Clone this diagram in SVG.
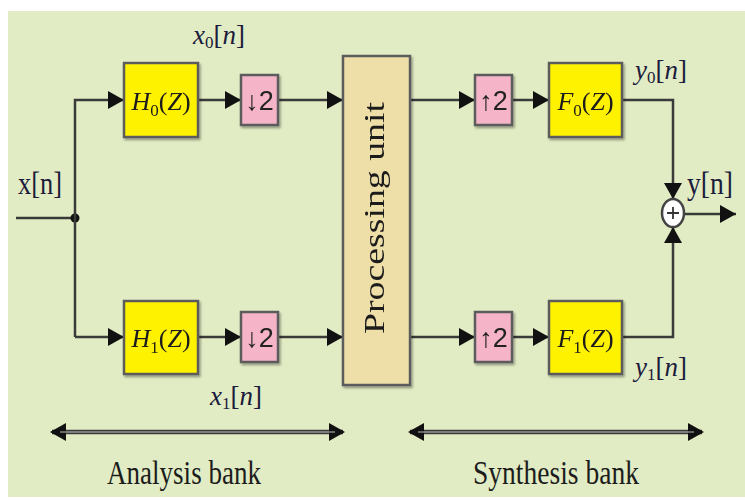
<svg xmlns="http://www.w3.org/2000/svg" width="745" height="500" viewBox="0 0 745 500">
<defs>
<marker id="ah" viewBox="0 0 16 18" refX="16" refY="9" markerWidth="16" markerHeight="18" markerUnits="userSpaceOnUse" orient="auto-start-reverse">
<path d="M0,0 L16,9 L0,18 Z" fill="#111"/>
</marker>
<marker id="ahb" viewBox="0 0 16 18" refX="14" refY="9" markerWidth="16" markerHeight="18" markerUnits="userSpaceOnUse" orient="auto-start-reverse">
<path d="M0,0 L16,9 L0,18 Z" fill="#111"/>
</marker>
<filter id="sh" x="-10%" y="-10%" width="130%" height="130%">
<feDropShadow dx="1.5" dy="2" stdDeviation="1" flood-color="#000" flood-opacity="0.35"/>
</filter>
</defs>
<style>
.w{fill:none;stroke:#3a3a3a;stroke-width:2.5}
.box{stroke:#5c5c5c;stroke-width:2.5}
.yel{fill:#FFF200}
.pink{fill:#F5B4C7}
.proc{fill:#EEDFA9}
.t{font-family:"Liberation Serif","DejaVu Serif",serif;fill:#1c1c1c}
.lbl{font-family:"Liberation Serif","DejaVu Serif",serif;fill:#1b1b3c}
.i{font-style:italic}
.ds{font-family:"Liberation Sans","DejaVu Sans",sans-serif;fill:#222;font-size:27px}
.big{stroke:#3a3a3a;stroke-width:4.5;fill:none}
</style>
<rect x="0" y="0" width="745" height="500" fill="#ffffff"/>
<rect x="8" y="11" width="737" height="486" fill="#E2ECC4"/>

<g id="connectors">
<path class="w" d="M16,218 H75"/>
<circle cx="75" cy="218" r="4.5" fill="#111"/>
<path class="w" d="M75,337 V100 H124" marker-end="url(#ah)"/>
<path class="w" d="M75,337 H124" marker-end="url(#ah)"/>
<path class="w" d="M198,100 H241" marker-end="url(#ah)"/>
<path class="w" d="M198,337 H241" marker-end="url(#ah)"/>
<path class="w" d="M278,100 H343" marker-end="url(#ah)"/>
<path class="w" d="M278,337 H343" marker-end="url(#ah)"/>
<path class="w" d="M410,100 H475" marker-end="url(#ah)"/>
<path class="w" d="M410,337 H475" marker-end="url(#ah)"/>
<path class="w" d="M512,100 H549" marker-end="url(#ah)"/>
<path class="w" d="M512,337 H549" marker-end="url(#ah)"/>
<path class="w" d="M622,100 H673 V199" marker-end="url(#ah)"/>
<path class="w" d="M622,337 H673 V227" marker-end="url(#ah)"/>
<path class="w" d="M684,214 H736" marker-end="url(#ah)"/>
<path class="big" d="M52,432 H343" marker-start="url(#ahb)" marker-end="url(#ahb)"/>
<path class="big" d="M410,432 H702" marker-start="url(#ahb)" marker-end="url(#ahb)"/>
<path d="M60,432 H335 M418,432 H694" stroke="#bdbdbd" stroke-width="1.2"/>
</g>

<g id="sum">
<ellipse cx="673" cy="213" rx="11" ry="14" fill="#ffffff" stroke="#444" stroke-width="2.5"/>
<path d="M667,213 H679 M673,207 V219" stroke="#333" stroke-width="1.8"/>
</g>

<g id="H0" filter="url(#sh)">
<rect class="box yel" x="124" y="63" width="74" height="74"/>
<text class="t" x="161" y="110" font-size="26" text-anchor="middle"><tspan class="i">H</tspan><tspan font-size="17" dy="6">0</tspan><tspan dy="-6">(</tspan><tspan class="i">Z</tspan>)</text>
</g>
<g id="D0" filter="url(#sh)">
<rect class="box pink" x="241" y="75" width="37" height="50"/>
<text class="ds" x="259.5" y="110" text-anchor="middle">↓2</text>
</g>
<g id="H1" filter="url(#sh)">
<rect class="box yel" x="124" y="301" width="74" height="73"/>
<text class="t" x="161" y="347" font-size="26" text-anchor="middle"><tspan class="i">H</tspan><tspan font-size="17" dy="6">1</tspan><tspan dy="-6">(</tspan><tspan class="i">Z</tspan>)</text>
</g>
<g id="D1" filter="url(#sh)">
<rect class="box pink" x="241" y="312" width="37" height="50"/>
<text class="ds" x="259.5" y="347" text-anchor="middle">↓2</text>
</g>
<g id="proc" filter="url(#sh)">
<rect class="box proc" x="343" y="56" width="67" height="329"/>
<text class="t" transform="translate(384,218) rotate(-90)" x="0" y="0" font-size="29" text-anchor="middle" textLength="232" lengthAdjust="spacingAndGlyphs">Processing unit</text>
</g>
<g id="U0" filter="url(#sh)">
<rect class="box pink" x="475" y="75" width="37" height="50"/>
<text class="ds" x="493.5" y="110" text-anchor="middle">↑2</text>
</g>
<g id="U1" filter="url(#sh)">
<rect class="box pink" x="475" y="312" width="37" height="50"/>
<text class="ds" x="493.5" y="347" text-anchor="middle">↑2</text>
</g>
<g id="F0" filter="url(#sh)">
<rect class="box yel" x="549" y="63" width="73" height="74"/>
<text class="t" x="585.5" y="110" font-size="26" text-anchor="middle"><tspan class="i">F</tspan><tspan font-size="17" dy="6">0</tspan><tspan dy="-6">(</tspan><tspan class="i">Z</tspan>)</text>
</g>
<g id="F1" filter="url(#sh)">
<rect class="box yel" x="549" y="301" width="73" height="73"/>
<text class="t" x="585.5" y="347" font-size="26" text-anchor="middle"><tspan class="i">F</tspan><tspan font-size="17" dy="6">1</tspan><tspan dy="-6">(</tspan><tspan class="i">Z</tspan>)</text>
</g>

<g id="labels">
<text class="lbl" x="18" y="194" font-size="32" textLength="44" lengthAdjust="spacingAndGlyphs">x[n]</text>
<text class="lbl" x="687" y="194" font-size="32" textLength="46" lengthAdjust="spacingAndGlyphs">y[n]</text>
<text class="lbl" x="193" y="44" font-size="27"><tspan class="i">x</tspan><tspan font-size="17" dy="4">0</tspan><tspan dy="-4">[</tspan><tspan class="i">n</tspan>]</text>
<text class="lbl" x="210" y="405" font-size="27"><tspan class="i">x</tspan><tspan font-size="17" dy="4">1</tspan><tspan dy="-4">[</tspan><tspan class="i">n</tspan>]</text>
<text class="lbl" x="635" y="79" font-size="27"><tspan class="i">y</tspan><tspan font-size="17" dy="4">0</tspan><tspan dy="-4">[</tspan><tspan class="i">n</tspan>]</text>
<text class="lbl" x="635" y="376" font-size="27"><tspan class="i">y</tspan><tspan font-size="17" dy="4">1</tspan><tspan dy="-4">[</tspan><tspan class="i">n</tspan>]</text>
<text class="t" x="107" y="484" font-size="34" textLength="154" lengthAdjust="spacingAndGlyphs">Analysis bank</text>
<text class="t" x="473" y="484" font-size="34" textLength="166" lengthAdjust="spacingAndGlyphs">Synthesis bank</text>
</g>
</svg>
